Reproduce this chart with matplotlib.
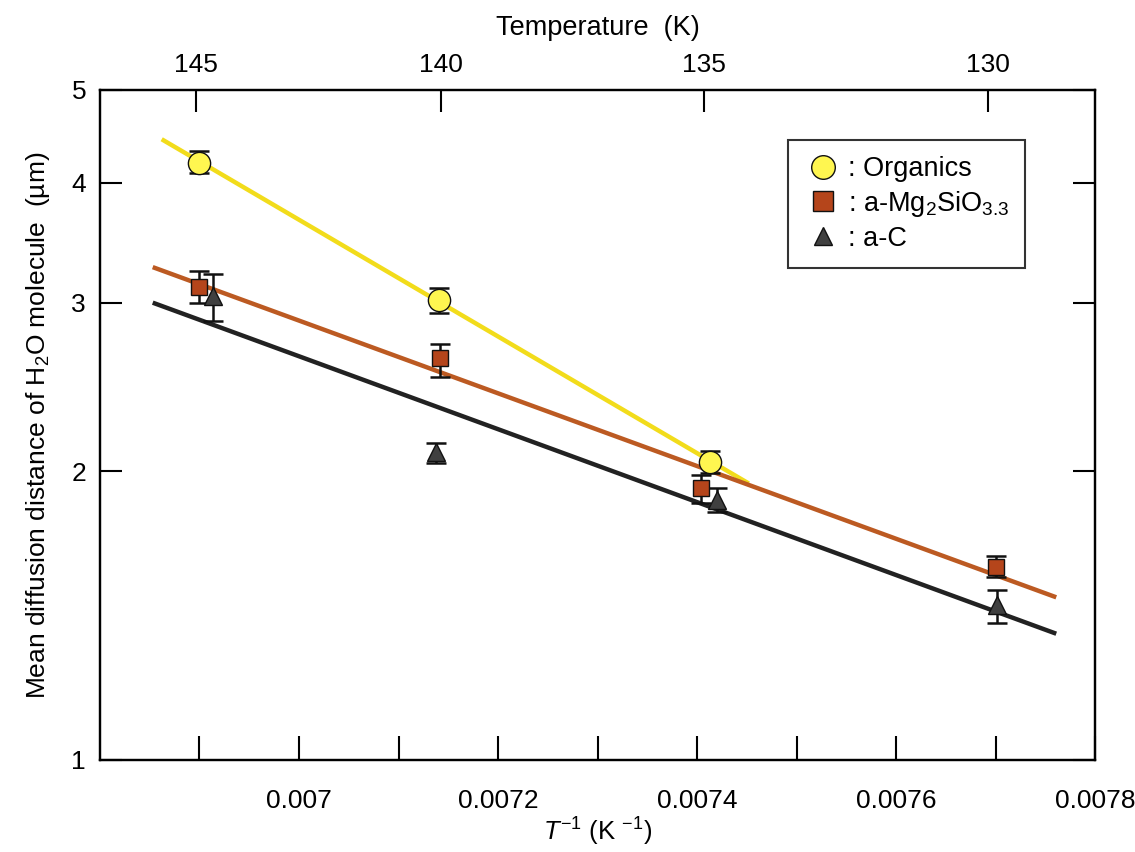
import numpy as np
import matplotlib
matplotlib.use("Agg")
import matplotlib.pyplot as plt
from matplotlib.lines import Line2D

plt.rcParams['font.family'] = ['Liberation Sans', 'DejaVu Sans']
plt.rcParams['mathtext.fontset'] = 'custom'
plt.rcParams['mathtext.rm'] = 'Liberation Sans'
plt.rcParams['mathtext.it'] = 'Liberation Sans:italic'

# ---- data ----
org_x = [0.006900, 0.007141, 0.007413]
org_y = [4.20, 3.02, 2.047]
org_lo = [4.10, 2.927, 1.991]
org_hi = [4.32, 3.108, 2.102]

mg_x = [0.006900, 0.007142, 0.007404, 0.007700]
mg_y = [3.117, 2.627, 1.923, 1.591]
mg_lo = [2.996, 2.509, 1.855, 1.552]
mg_hi = [3.233, 2.716, 1.983, 1.633]

ac_x = [0.006914, 0.007138, 0.007420, 0.007701]
ac_y = [3.05, 2.095, 1.868, 1.451]
ac_lo = [2.871, 2.042, 1.816, 1.390]
ac_hi = [3.214, 2.142, 1.923, 1.504]

org_fit_range = [0.006862, 0.007452]
mg_fit_range = [0.006853, 0.007761]
ac_fit_range = [0.006853, 0.007761]

temps = [145, 140, 135, 130]
x_major = [0.007, 0.0072, 0.0074, 0.0076, 0.0078]
x_minor = [0.0069, 0.0071, 0.0073, 0.0075, 0.0077]
y_ticks = [1, 2, 3, 4, 5]

c_org_line = '#F2DC1B'
c_org_face = '#FFF650'
c_mg_line = '#BC5A22'
c_mg_face = '#B5451B'
c_ac_line = '#222222'
c_ac_face = '#404040'

fig = plt.figure(figsize=(11.35, 8.52), dpi=100)
ax = fig.add_axes([0.0881, 0.108, 0.8767, 0.7864])
ax.set_yscale('log')
ax.set_xlim(0.0068, 0.0078)
ax.set_ylim(1, 5)


def fit_line(xs, ys, rng, color, z):
    p = np.polyfit(np.array(xs), np.log10(np.array(ys)), 1)
    xx = np.array(rng)
    ax.plot(xx, 10 ** np.polyval(p, xx), color=color, lw=3.2, zorder=z,
            solid_capstyle='butt')


fit_line(org_x, org_y, org_fit_range, c_org_line, 2)
fit_line(mg_x, mg_y, mg_fit_range, c_mg_line, 3)
fit_line(ac_x, ac_y, ac_fit_range, c_ac_line, 3)


def series(xs, ys, lo, hi, marker, face, ms):
    ys = np.array(ys)
    yerr = [ys - np.array(lo), np.array(hi) - ys]
    ax.errorbar(xs, ys, yerr=yerr, fmt='none', ecolor='#111111',
                elinewidth=1.8, capsize=7, capthick=1.8, zorder=5)
    ax.plot(xs, ys, ls='none', marker=marker, ms=ms, mfc=face,
            mec='#111111', mew=1.0, zorder=6)


series(org_x, org_y, org_lo, org_hi, 'o', c_org_face, 16)
series(mg_x, mg_y, mg_lo, mg_hi, 's', c_mg_face, 12)
series(ac_x, ac_y, ac_lo, ac_hi, '^', c_ac_face, 12.5)

# axes styling
for s in ax.spines.values():
    s.set_linewidth(1.6)
ax.set_xticks(x_major)
ax.set_xticklabels([f"{v:g}" for v in x_major])
ax.set_xticks(x_minor, minor=True)
ax.set_yticks(y_ticks)
ax.set_yticklabels([str(v) for v in y_ticks])
ax.yaxis.set_minor_locator(matplotlib.ticker.NullLocator())
ax.tick_params(axis='x', which='both', direction='in', length=17, width=1.5,
               labelsize=19, pad=21, top=False)
ax.tick_params(axis='y', which='major', direction='in', length=16, width=1.5,
               labelsize=19, pad=10, right=True)

ax.set_xlabel(r'$\mathit{T}^{-1}$ (K $^{-1}$)', fontsize=18.5, labelpad=2)
ax.set_ylabel(r'Mean diffusion distance of H$_2$O molecule  (µm)',
              fontsize=19, labelpad=14)

# top temperature axis
top = ax.twiny()
top.set_xlim(ax.get_xlim())
top.set_xticks([1.0 / t for t in temps])
top.set_xticklabels([str(t) for t in temps])
top.tick_params(axis='x', direction='in', length=16, width=1.5,
                labelsize=19, pad=9)
top.set_xlabel('Temperature  (K)', fontsize=19.5, labelpad=13)
for s in top.spines.values():
    s.set_linewidth(1.6)

handles = [
    Line2D([], [], ls='none', marker='o', ms=17, mfc=c_org_face, mec='#111111', mew=1.0),
    Line2D([], [], ls='none', marker='s', ms=14, mfc=c_mg_face, mec='#111111', mew=1.0),
    Line2D([], [], ls='none', marker='^', ms=13, mfc=c_ac_face, mec='#111111', mew=1.0),
]
labels = [': Organics', r': a-Mg$_2$SiO$_{3.3}$', ': a-C']
leg = ax.legend(handles, labels, loc='upper left',
                bbox_to_anchor=(0.6915, 0.9254), fontsize=19.5,
                frameon=True, fancybox=False, handlelength=1.4,
                handletextpad=0.2, borderpad=0.6, labelspacing=0.25,
                borderaxespad=0)
leg.get_frame().set_edgecolor('black')
leg.get_frame().set_linewidth(1.5)

fig.savefig('out.png', dpi=100)
